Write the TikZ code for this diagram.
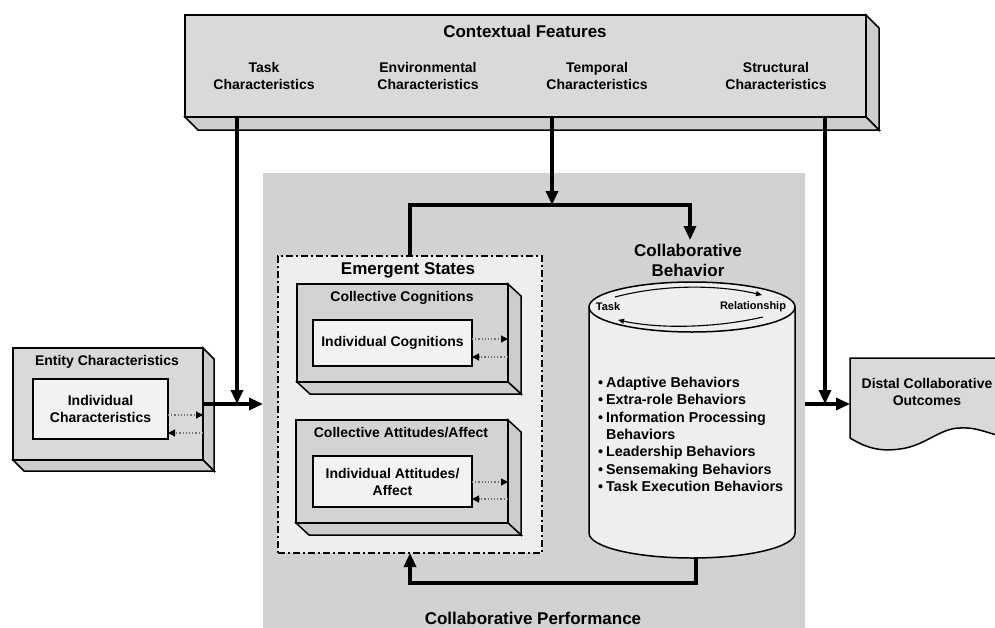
\documentclass[tikz,border=0pt]{standalone}
\usepackage{fontspec}
\setmainfont{Liberation Sans}
\usetikzlibrary{arrows.meta,calc}
\definecolor{ctxgray}{HTML}{D9D9D9}
\definecolor{sidegray}{HTML}{CDCDCD}
\definecolor{perfgray}{HTML}{D2D2D2}
\definecolor{esfill}{HTML}{EEEEEE}
\definecolor{collgray}{HTML}{D3D3D3}
\definecolor{indfill}{HTML}{F2F2F2}
\begin{document}
\begin{tikzpicture}[x=1pt,y=-1pt,
  hfont/.style={font=\fontsize{17}{20}\selectfont\bfseries},
  bfont/.style={font=\fontsize{14}{17}\selectfont\bfseries},
  lfont/.style={font=\fontsize{14.3}{17.4}\selectfont\bfseries},
  sfont/.style={font=\fontsize{11}{13}\selectfont\bfseries},
  face/.style={draw=black, line width=1.5pt, inner sep=0pt, outer sep=0pt},
  sideface/.style={fill=sidegray, draw=black, line width=1.5pt, line join=miter},
  conn/.style={line width=3.2pt, -{Triangle[length=14pt,width=12pt]}},
  dotarr/.style={dotted, line width=1.2pt, draw=black!55, -{Triangle[length=7pt,width=7pt,color=black]}},
  smallarr/.style={line width=1.1pt, -{Triangle[length=6pt,width=5pt]}},
  dashdotbox/.style={draw=black, line width=1.5pt, dash pattern=on 7pt off 3pt on 2pt off 3pt},
]
\useasboundingbox (0,0) rectangle (995,627);
\clip (0,0) rectangle (995,627);

% ---------- Collaborative performance region ----------
\node[fill=perfgray, inner sep=0pt, outer sep=0pt, minimum width=542pt, minimum height=467pt] (perf) at (534,406.5) {};
\node[hfont] (perft) at (533,618) {Collaborative Performance};

% ---------- Contextual features ----------
\node[face, fill=ctxgray, minimum width=681pt, minimum height=102pt] (ctx) at (525.5,66) {};
\draw[sideface] (ctx.north east) -- ++(13,13) -- ($(ctx.south east)+(13,13)$) -- (ctx.south east) -- cycle;
\draw[sideface] (ctx.south west) -- (ctx.south east) -- ++(13,13) -- ($(ctx.south west)+(13,13)$) -- cycle;
\node[hfont] (ctxt) at (525,31) {Contextual Features};
\node[bfont, align=center] (tk) at (264,76) {Task\\Characteristics};
\node[bfont, align=center] (env) at (428,76) {Environmental\\Characteristics};
\node[bfont, align=center] (tmp) at (597,76) {Temporal\\Characteristics};
\node[bfont, align=center] (str) at (776,76) {Structural\\Characteristics};

% ---------- Entity characteristics ----------
\node[face, fill=ctxgray, minimum width=190pt, minimum height=112pt] (ent) at (108,404) {};
\draw[sideface] (ent.north east) -- ++(11,11) -- ($(ent.south east)+(11,11)$) -- (ent.south east) -- cycle;
\draw[sideface] (ent.south west) -- (ent.south east) -- ++(11,11) -- ($(ent.south west)+(11,11)$) -- cycle;
\node[bfont] (entt) at (107,362) {Entity Characteristics};
\node[face, fill=indfill, minimum width=135pt, minimum height=60pt, bfont, align=center] (ic) at (100.5,409) {Individual\\Characteristics};
\draw[dotarr] ($(ic.east)+(0,6)$) -- ($(ic.east -| ent.east)+(0,6)$);
\draw[dotarr] ($(ic.east -| ent.east)+(0,24)$) -- ($(ic.east)+(0,24)$);

% ---------- Emergent states ----------
\node[dashdotbox, fill=esfill, inner sep=0pt, outer sep=0pt, minimum width=264pt, minimum height=297pt] (es) at (410,404.5) {};
\node[hfont] (est) at (408,270) {Emergent States};

\node[face, fill=collgray, minimum width=211pt, minimum height=98pt] (ccog) at (402.5,333) {};
\draw[sideface] (ccog.north east) -- ++(13,12) -- ($(ccog.south east)+(13,12)$) -- (ccog.south east) -- cycle;
\draw[sideface] (ccog.south west) -- (ccog.south east) -- ++(13,12) -- ($(ccog.south west)+(13,12)$) -- cycle;
\node[bfont] (ccogt) at (402,298) {Collective Cognitions};
\node[face, fill=indfill, minimum width=159pt, minimum height=46pt, bfont] (icog) at (392.5,343) {Individual Cognitions};
\draw[dotarr] ($(icog.east)+(0,-4)$) -- ($(icog.east -| ccog.east)+(0,-4)$);
\draw[dotarr] ($(icog.east -| ccog.east)+(0,14)$) -- ($(icog.east)+(0,14)$);

\node[face, fill=collgray, minimum width=212pt, minimum height=103pt] (catt) at (402,471.5) {};
\draw[sideface] (catt.north east) -- ++(13,12) -- ($(catt.south east)+(13,12)$) -- (catt.south east) -- cycle;
\draw[sideface] (catt.south west) -- (catt.south east) -- ++(13,12) -- ($(catt.south west)+(13,12)$) -- cycle;
\node[bfont] (cattt) at (401,433) {Collective Attitudes/Affect};
\node[face, fill=indfill, minimum width=159pt, minimum height=51pt, bfont, align=center] (iatt) at (392.5,481.5) {Individual Attitudes/\\Affect};
\draw[dotarr] ($(iatt.east)+(0,0.5)$) -- ($(iatt.east -| catt.east)+(0,0.5)$);
\draw[dotarr] ($(iatt.east -| catt.east)+(0,17.5)$) -- ($(iatt.east)+(0,17.5)$);

% ---------- Collaborative behavior cylinder ----------
\node[hfont, align=center] (cbt) at (688,260) {Collaborative\\Behavior};
\filldraw[fill=esfill, draw=black, line width=1.5pt]
  (589,307) -- (589,533)
  .. controls (589,546.8) and (635.1,558) .. (692,558)
  .. controls (748.9,558) and (795,546.8) .. (795,533)
  -- (795,307);
\filldraw[fill=esfill, draw=black, line width=1.5pt] (692,307) ellipse [x radius=103, y radius=25];
\node[sfont] (cbtask) at (608,307) {Task};
\node[sfont] (cbrel) at (753,307) {Relationship};
\coordinate (ua) at (615,297);
\coordinate (ub) at (762,295);
\coordinate (la) at (763,317);
\coordinate (lb) at (618,320);
\draw[smallarr] (ua) .. controls (660,285) and (715,284) .. (ub);
\draw[smallarr] (la) .. controls (715,328) and (660,329) .. (lb);
\node[lfont, anchor=north west, inner sep=0pt] (blist) at (598,375) {%
  \begin{tabular}{@{}l@{\hspace{3pt}}l@{}}
  \textbullet & Adaptive Behaviors\\
  \textbullet & Extra-role Behaviors\\
  \textbullet & Information Processing\\
   & Behaviors\\
  \textbullet & Leadership Behaviors\\
  \textbullet & Sensemaking Behaviors\\
  \textbullet & Task Execution Behaviors
  \end{tabular}};

% ---------- Distal outcomes ----------
\filldraw[fill=ctxgray, draw=black, line width=1.5pt]
  (850,438) -- (850,358) -- (1000,358) -- (1000,436)
  .. controls (985,432) and (975,427) .. (960,428)
  .. controls (940,428) and (925,446) .. (900,449)
  .. controls (878,452) and (865,447) .. (850,438);
\node[bfont, align=center] (dist) at (927,392) {Distal Collaborative\\Outcomes};
\coordinate (distin) at (850,404);

% ---------- Connectors ----------
\coordinate (ta) at (237,117);
\coordinate (tm) at (552,117);
\coordinate (sa) at (825,117);
\coordinate (looptop) at (690,205);
\coordinate (cbin) at (690,240);
\coordinate (cylbot) at (696,558);
\coordinate (fb) at (410,583);

\draw[conn] (ta) -- (ta |- ent.east);
\draw[conn] (ent.east) -- (ent.east -| perf.west);
\draw[conn] (tm) -- (tm |- looptop);
\draw[conn] (es.north) |- (looptop) -- (cbin);
\draw[conn] (cylbot) |- (fb) -- (es.south);
\draw[conn] (sa) -- (sa |- distin);
\draw[conn] (perf.east |- distin) -- (distin);
\end{tikzpicture}
\end{document}
